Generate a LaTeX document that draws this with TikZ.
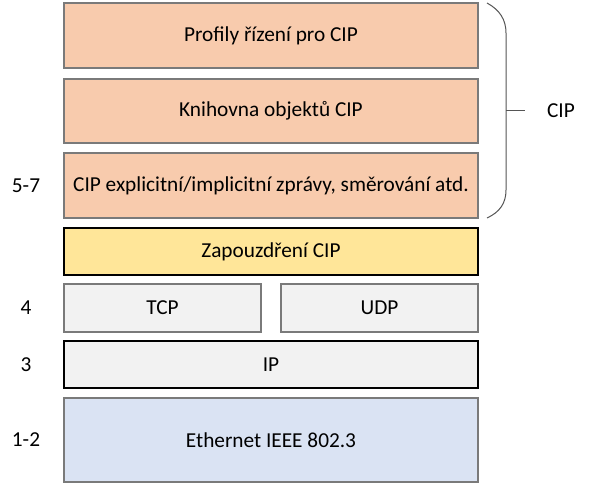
\documentclass[tikz,border=0pt]{standalone}
\usepackage{fontspec}
\setmainfont{Carlito}
\definecolor{cipfill}{HTML}{F8CBAD}
\definecolor{encfill}{HTML}{FFE699}
\definecolor{netfill}{HTML}{F2F2F2}
\definecolor{ethfill}{HTML}{DAE3F3}
\definecolor{edgegray}{HTML}{7A7A7A}
\begin{document}
\begin{tikzpicture}[
  x=1pt, y=-1pt,
  layer/.style={draw=edgegray, line width=1.4pt, minimum width=414pt, font=\fontsize{21.3}{25}\selectfont},
  lvl/.style={font=\fontsize{21.3}{25}\selectfont},
]
  \useasboundingbox (0,0) rectangle (589,484);
  % CIP layers
  \node[layer, fill=cipfill, minimum height=65pt] (prof) at (271,35.5) {Profily řízení pro CIP};
  \node[layer, fill=cipfill, minimum height=64pt] (lib) at (271,111) {Knihovna objektů CIP};
  \node[layer, fill=cipfill, minimum height=65pt] (msg) at (271,185.5) {CIP explicitní/implicitní zprávy, směrování atd.};
  \node[layer, fill=encfill, draw=black, minimum height=47pt] (enc) at (271,251.5) {Zapouzdření CIP};
  % transport and below
  \node[layer, fill=netfill, minimum width=197pt, minimum height=48pt] (tcp) at (162.5,308) {TCP};
  \node[layer, fill=netfill, minimum width=197pt, minimum height=48pt] (udp) at (379.5,308) {UDP};
  \node[layer, fill=netfill, draw=black, minimum height=47pt] (ip) at (271,364.5) {IP};
  \node[layer, fill=ethfill, minimum height=84pt] (eth) at (271,440) {Ethernet IEEE 802.3};

  % Level numbers
  \foreach \n/\t/\y in {l57/5-7/185.5, l4/4/308, l3/3/364.5, l12/1-2/440} {
    \node[lvl] (\n) at (26,\y) {\t};
  }

  % Brace
  \coordinate (btop) at (487,3);
  \coordinate (bbot) at (487,218);
  \coordinate (btip) at (506,111);
  \draw[edgegray!70!black, line width=1pt] (btop) .. controls (500,10) and (506,20) .. (506,33) -- (506,190) .. controls (506,203) and (500,212) .. (bbot);
  \node[lvl] (cip) at (561,111) {CIP};
  \draw[edgegray!70!black, line width=1pt] (btip) -- (cip.west -| 525,0);
\end{tikzpicture}
\end{document}
